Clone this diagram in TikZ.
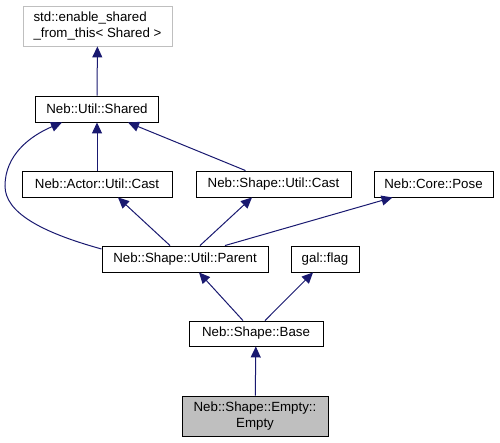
\documentclass[tikz,border=0pt]{standalone}
\usepackage{fontspec}
\setmainfont{Liberation Sans}
\usetikzlibrary{arrows.meta}
\definecolor{edgeblue}{HTML}{191970}
\definecolor{boxgray}{HTML}{BFBFBF}

\begin{document}
\begin{tikzpicture} [x=1pt, y=-1pt, font=\fontsize{13.3}{15.5}\selectfont,
  cls/.style={draw, line width=0.9pt, inner sep=0pt, minimum height=26pt},
  ext/.style={cls, draw=boxgray, minimum height=40pt},
  cur/.style={cls, fill=boxgray, minimum height=40pt, align=center},
  inh/.style={-{Triangle[length=11pt, width=10pt]}, edgeblue, line width=1pt}]
\useasboundingbox (0, 0) rectangle (500, 443);

\path (97.5, 26) node[ext, minimum width=149pt, align=left] (esft) {std::enable\_shared\\\_from\_this< Shared >}
      (97, 109) node[cls, minimum width=123pt] (shared) {Neb::Util::Shared}
      (97, 184) node[cls, minimum width=150pt] (acast) {Neb::Actor::Util::Cast}
      (273.5, 184) node[cls, minimum width=155pt] (scast) {Neb::Shape::Util::Cast}
      (433.5, 184) node[cls, minimum width=119pt] (pose) {Neb::Core::Pose}
      (185, 259) node[cls, minimum width=166pt] (parent) {Neb::Shape::Util::Parent}
      (325, 259) node[cls, minimum width=68pt] (flag) {gal::flag}
      (256, 333.5) node[cls, minimum width=134pt, minimum height=25pt] (base) {Neb::Shape::Base}
      (255, 416) node[cur, minimum width=146pt] (empty) {Neb::Shape::Empty::\\Empty};

\draw[inh] (shared) to (esft);
\draw[inh] (acast) to (shared);
\draw[inh] ([xshift=-28pt]scast.north) to ([xshift=31pt]shared.south);
\draw[inh] ([yshift=10pt]parent.west) .. controls (40, 232) and (5, 212) .. (5, 186)
           .. controls (5, 155) and (30, 136) .. ([xshift=-35pt]shared.south);
\draw[inh] ([xshift=-15pt]parent.north) to ([xshift=21pt]acast.south);
\draw[inh] ([xshift=15pt]parent.north) to ([xshift=-21.5pt]scast.south);
\draw[inh] ([xshift=40pt]parent.north) to ([xshift=-41pt]pose.south);
\draw[inh] ([xshift=-13pt]base.north) to ([xshift=14pt]parent.south);
\draw[inh] ([xshift=9pt]base.north) to ([xshift=-12pt]flag.south);
\draw[inh] (empty) to (base);

\end{tikzpicture}
\end{document}
